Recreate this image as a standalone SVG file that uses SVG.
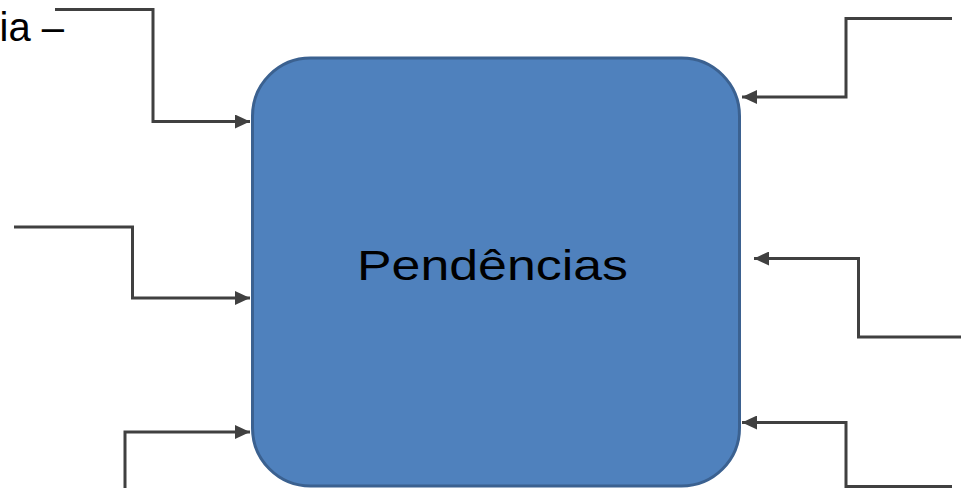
<svg xmlns="http://www.w3.org/2000/svg" width="961" height="488" viewBox="0 0 961 488">
<style>
.c{fill:none;stroke:#404040;stroke-width:3;}
.t{font-family:"Liberation Sans",Arial,sans-serif;fill:#000;}
</style>
<defs>
<marker id="ah" markerUnits="userSpaceOnUse" markerWidth="16" markerHeight="14" refX="15" refY="7" orient="auto">
<path d="M0,0 L15,7 L0,14 Z" fill="#404040"/>
</marker>
</defs>
<rect width="961" height="488" fill="#fff"/>
<g id="labels">
<text class="t" x="64" y="41" font-size="40" text-anchor="end">ia –</text>
</g>
<g id="connectors">
<path class="c" d="M55,9.5 H153 V121.5 H250" marker-end="url(#ah)"/>
<path class="c" d="M14,227 H132.5 V298 H250" marker-end="url(#ah)"/>
<path class="c" d="M125,490 V432 H250" marker-end="url(#ah)"/>
<path class="c" d="M952,18.5 H846 V97 H742" marker-end="url(#ah)"/>
<path class="c" d="M963,337 H858.5 V258.5 H754" marker-end="url(#ah)"/>
<path class="c" d="M952,486.5 H846 V422.5 H742" marker-end="url(#ah)"/>
</g>
<g id="pendencias">
<rect x="252.5" y="58" width="487" height="428" rx="58" ry="58" fill="#4f81bd" stroke="#3b6190" stroke-width="3"/>
<text class="t" x="357" y="280" font-size="42" textLength="271" lengthAdjust="spacingAndGlyphs">Pendências</text>
</g>
</svg>
